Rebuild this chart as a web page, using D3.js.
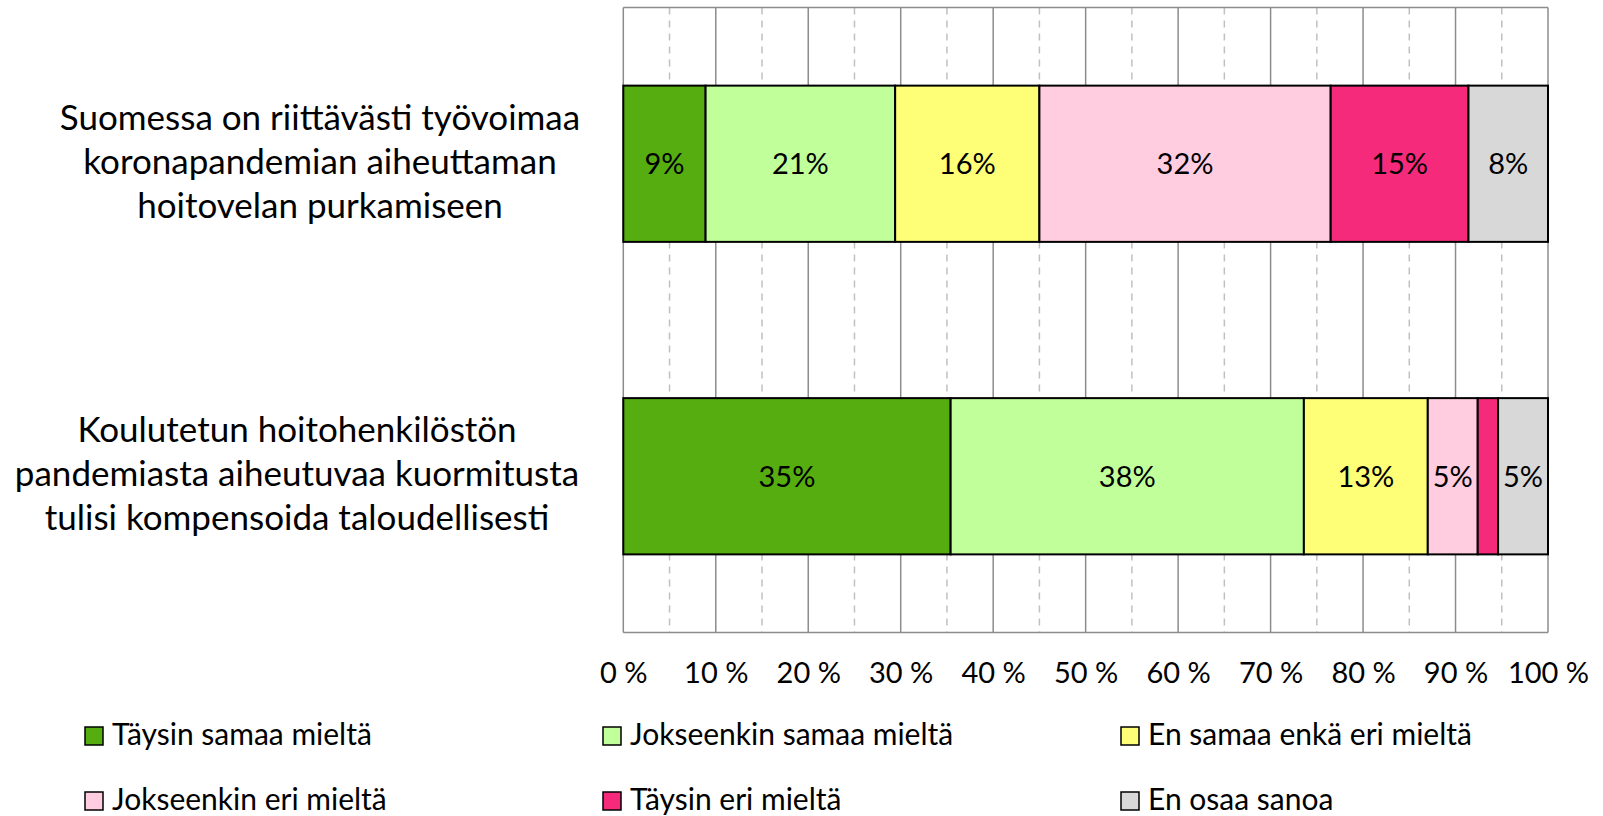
<!DOCTYPE html>
<html>
<head>
<meta charset="utf-8">
<script src="https://cdn.jsdelivr.net/npm/d3@7"></script>
<style>
  body { margin: 0; background: #fff; }
  svg { display: block; font-family: Lato, "Open Sans", sans-serif; }
</style>
</head>
<body>
<svg id="chart" width="1603" height="816"></svg>
<script>
// answer categories (stack order, left to right)
var keys = ["Täysin samaa mieltä", "Jokseenkin samaa mieltä", "En samaa enkä eri mieltä",
            "Jokseenkin eri mieltä", "Täysin eri mieltä", "En osaa sanoa"];
var colors = ["#56ad0f", "#c0ff9a", "#ffff77", "#ffcce0", "#f52a7b", "#d8d8d8"];

// statements, each split into its wrapped lines
var statements = [
    ["Suomessa on riittävästi työvoimaa", "koronapandemian aiheuttaman", "hoitovelan purkamiseen"],
    ["Koulutetun hoitohenkilöstön", "pandemiasta aiheutuvaa kuormitusta", "tulisi kompensoida taloudellisesti"]
];

// shares in percent
var valuesFirst = [8.9, 20.5, 15.6, 31.5, 14.9, 8.6];
var valuesSecond = [35.4, 38.2, 13.4, 5.4, 2.2, 5.4];
// data labels as printed on the bars ("" = no label)
var labelsFirst = ["9%", "21%", "16%", "32%", "15%", "8%"];
var labelsSecond = ["35%", "38%", "13%", "5%", "", "5%"];

var xTicks = [0, 10, 20, 30, 40, 50, 60, 70, 80, 90, 100];

var svg = d3.select("#chart");

var plotLeft = 623.3, plotRight = 1548, plotTop = 7.5, plotBottom = 632.5;
// centre of each wrapped statement label
var labelCenters = [320, 297];

var x = d3.scaleLinear().domain([0, 100]).range([plotLeft, plotRight]);
var y = d3.scaleBand()
    .domain(d3.range(statements.length))
    .range([plotTop, plotBottom])
    .paddingInner(0.5)
    .paddingOuter(0.25);

var rows = [valuesFirst, valuesSecond].map(function(vals, i) {
    var row = { index: i };
    keys.forEach(function(k, j) { row[k] = vals[j]; });
    return row;
});
var rowLabels = [labelsFirst, labelsSecond];

// gridlines: dashed every 5 %, solid every 10 %
var grid = svg.append("g");
grid.selectAll("line.minor")
    .data(d3.range(5, 100, 10))
    .enter().append("line")
    .attr("class", "minor")
    .attr("x1", function(d) { return x(d); })
    .attr("x2", function(d) { return x(d); })
    .attr("y1", plotTop)
    .attr("y2", plotBottom)
    .style("stroke", "#c0c0c0")
    .style("stroke-width", 1.5)
    .style("stroke-dasharray", "7,6");

grid.selectAll("line.major")
    .data(xTicks)
    .enter().append("line")
    .attr("class", "major")
    .attr("x1", function(d) { return x(d); })
    .attr("x2", function(d) { return x(d); })
    .attr("y1", plotTop)
    .attr("y2", plotBottom)
    .style("stroke", "#8c8c8c")
    .style("stroke-width", 1.5);

grid.append("line")
    .attr("x1", plotLeft).attr("x2", plotRight)
    .attr("y1", plotTop).attr("y2", plotTop)
    .style("stroke", "#8c8c8c").style("stroke-width", 1.5);
grid.append("line")
    .attr("x1", plotLeft).attr("x2", plotRight)
    .attr("y1", plotBottom).attr("y2", plotBottom)
    .style("stroke", "#8c8c8c").style("stroke-width", 1.5);

// stacked bars
var series = d3.stack().keys(keys)(rows);

var layers = svg.selectAll("g.layer")
    .data(series)
    .enter().append("g")
    .attr("class", "layer")
    .style("fill", function(d, i) { return colors[i]; });

layers.selectAll("rect")
    .data(function(d) { return d; })
    .enter().append("rect")
    .attr("x", function(d) { return x(d[0]); })
    .attr("y", function(d) { return y(d.data.index); })
    .attr("width", function(d) { return x(d[1]) - x(d[0]); })
    .attr("height", y.bandwidth())
    .style("stroke", "#000")
    .style("stroke-width", 2);

// data labels
layers.each(function(s, i) {
    d3.select(this).selectAll("text")
        .data(s)
        .enter().append("text")
        .attr("x", function(d) { return (x(d[0]) + x(d[1])) / 2; })
        .attr("y", function(d) { return y(d.data.index) + y.bandwidth() / 2 + 10.5; })
        .attr("text-anchor", "middle")
        .style("fill", "#000")
        .style("font-size", "29px")
        .text(function(d) { return rowLabels[d.data.index][i]; });
});

// category labels
statements.forEach(function(lines, i) {
    var cy = y(i) + y.bandwidth() / 2;
    var t = svg.append("text")
        .attr("text-anchor", "middle")
        .style("font-size", "35px")
        .style("fill", "#000");
    lines.forEach(function(line, j) {
        t.append("tspan")
            .attr("x", labelCenters[i])
            .attr("y", cy + 10 + (j - 1) * 44)
            .text(line);
    });
});

// x axis
var axis = svg.append("g")
    .attr("transform", "translate(0," + 683 + ")")
    .call(d3.axisBottom(x).tickValues(xTicks).tickSize(0).tickPadding(0)
        .tickFormat(function(d) { return d + " %"; }));
axis.select(".domain").remove();
axis.selectAll("text")
    .attr("y", 0)
    .attr("dy", null)
    .style("font-family", "Lato, sans-serif")
    .style("font-size", "29px")
    .style("fill", "#000");

// legend, three columns by two rows
var legend = svg.selectAll("g.legend")
    .data(keys)
    .enter().append("g")
    .attr("class", "legend")
    .attr("transform", function(d, i) {
        return "translate(" + (85 + (i % 3) * 518) + "," + (727 + Math.floor(i / 3) * 65) + ")";
    });

legend.append("rect")
    .attr("width", 18)
    .attr("height", 18)
    .style("fill", function(d, i) { return colors[i]; })
    .style("stroke", "#000")
    .style("stroke-width", 1.5);

legend.append("text")
    .attr("x", 27)
    .attr("y", 17.5)
    .style("font-size", "30px")
    .style("fill", "#000")
    .text(function(d) { return d; });
</script>
</body>
</html>
